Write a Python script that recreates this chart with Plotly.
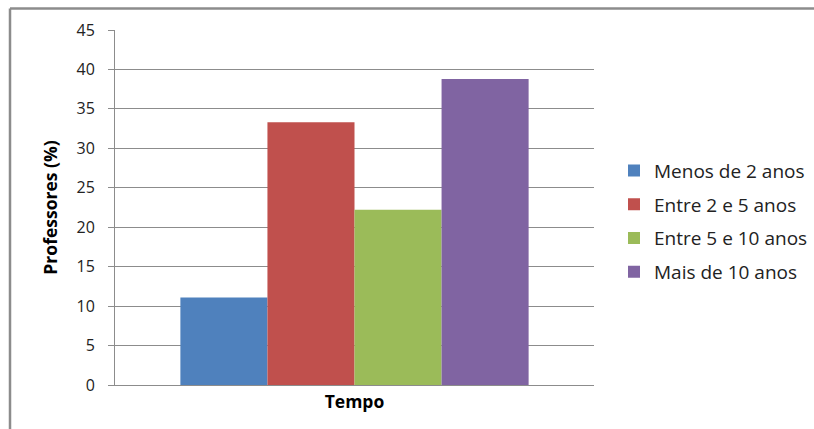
import plotly.graph_objects as go

categories = ["Tempo"]
series_names = ["Menos de 2 anos", "Entre 2 e 5 anos", "Entre 5 e 10 anos", "Mais de 10 anos"]
series_values = [11.1, 33.3, 22.2, 38.8]
colors = ["#4F81BD", "#C0504D", "#9BBB59", "#8064A2"]
y_ticks = [0, 5, 10, 15, 20, 25, 30, 35, 40, 45]

W, H = 814, 429
L, R, T, B = 115, 220, 29.5, 44
pw = W - L - R
ph = H - T - B

fig = go.Figure()
for i, (name, val, col) in enumerate(zip(series_names, series_values, colors)):
    fig.add_trace(go.Bar(x=[""], y=[val], name=name, marker=dict(color=col, line=dict(width=0)),
                         legendgroup=f"g{i}"))

def px_x(x):
    return (x - L) / pw

def px_y(y):
    return (H - B - y) / ph

fig.update_layout(
    width=W, height=H,
    margin=dict(l=L, r=R, t=T, b=B, autoexpand=False),
    paper_bgcolor="white", plot_bgcolor="white",
    barmode="group", bargap=0.273, bargroupgap=0,
    font=dict(family="Open Sans, Lato, sans-serif", color="#000000"),
    showlegend=True,
    legend=dict(x=px_x(614), y=px_y(221), xanchor="left", yanchor="middle",
                font=dict(size=19, color="#222"), tracegroupgap=6,
                bgcolor="rgba(0,0,0,0)"),
    xaxis=dict(showgrid=False, showline=True, linecolor="#8C8C8C", linewidth=1,
               ticks="", showticklabels=False,
               title=dict(text="<b>Tempo</b>", font=dict(size=17.5), standoff=10)),
    yaxis=dict(range=[0, 45], tickvals=y_ticks, showgrid=True, gridcolor="#8C8C8C", gridwidth=1,
               showline=True, linecolor="#8C8C8C", linewidth=1, zeroline=False,
               ticks="outside", ticklen=6, tickcolor="#8C8C8C",
               tickfont=dict(size=16, color="#222"), ticklabelstandoff=10,
               title=dict(text="<b>Professores (%)</b>", font=dict(size=17.5), standoff=14)),
    shapes=[
        dict(type="line", xref="paper", yref="paper", x0=px_x(10), x1=px_x(814), y0=px_y(8), y1=px_y(8),
             line=dict(color="#8C8C8C", width=2.5)),
        dict(type="line", xref="paper", yref="paper", x0=px_x(10), x1=px_x(10), y0=px_y(8), y1=px_y(429),
             line=dict(color="#8C8C8C", width=2.5)),
    ],
)

fig.write_html("out.html", config={"displayModeBar": False},
               post_script="document.body.style.margin='0';document.body.style.overflow='hidden';")
